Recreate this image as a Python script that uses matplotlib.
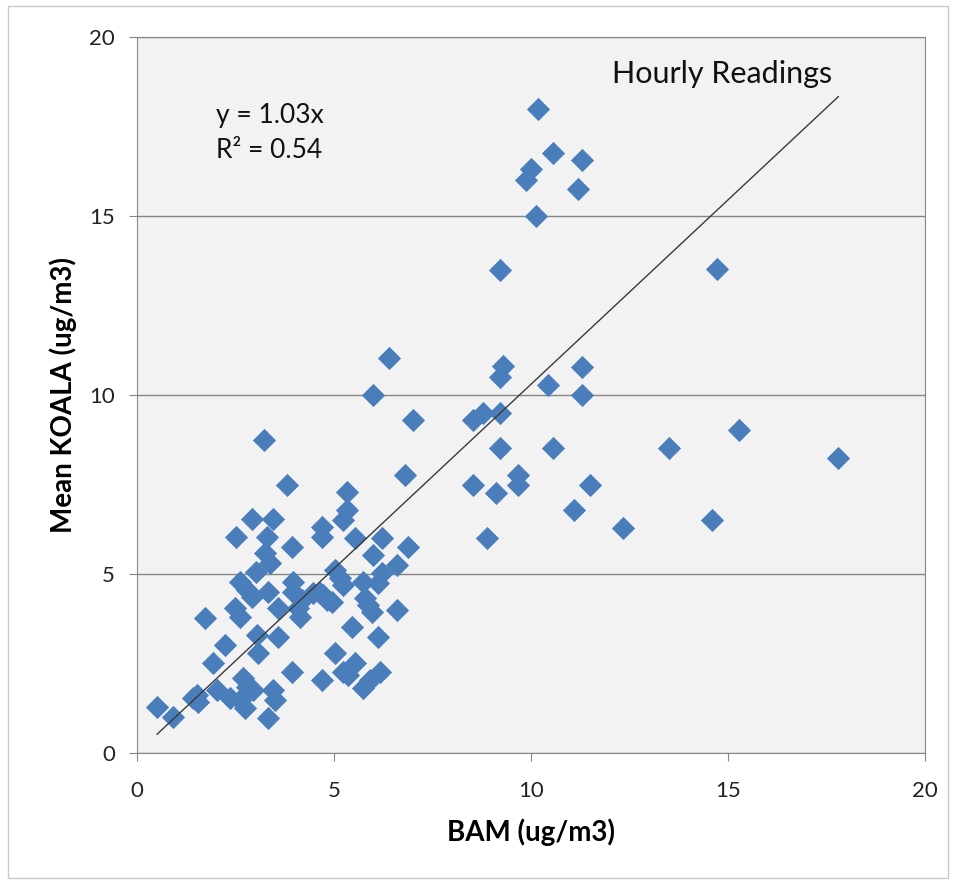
import matplotlib
matplotlib.use("Agg")
import matplotlib.pyplot as plt
from matplotlib.patches import Rectangle
import numpy as np

plt.rcParams['font.family'] = ['Lato', 'DejaVu Sans']

bam = [10.17, 10.55, 11.3, 9.99, 9.88, 11.2, 10.12, 9.22, 14.71, 6.4, 9.3, 9.22, 11.3, 10.42, 11.3,
       6.0, 7.01, 8.54, 8.79, 9.22, 9.22, 10.55, 13.5, 15.27, 17.8, 9.66, 9.66, 8.54, 9.1, 11.51,
       11.08, 12.33, 14.6, 8.89, 6.81,
       5.34, 5.34, 5.24, 5.54, 6.23, 6.89, 6.0, 6.6, 5.03, 5.16, 5.24, 6.23, 6.12, 5.74, 4.47,
       4.73, 4.96, 5.79, 5.87, 5.97, 6.6, 5.46, 6.12, 5.03, 5.54, 5.24, 5.36, 6.18, 5.92, 5.74,
       3.23, 3.81, 2.92, 3.46, 2.52, 3.3, 3.94, 4.7, 4.7, 3.25, 3.38, 3.02, 2.62, 2.8, 2.92,
       3.33, 3.96, 3.96, 4.19, 4.65, 4.83, 3.58, 4.09, 2.49, 2.62, 1.73, 4.14, 3.05, 3.58, 2.24,
       3.07, 1.93, 3.94, 4.7, 2.03, 2.69, 2.8, 2.95, 1.52, 1.55, 2.36, 2.62, 2.74, 3.46, 3.51,
       3.33, 0.51, 0.91, 1.42]
koala = [18.0, 16.76, 16.56, 16.3, 16.0, 15.75, 15.0, 13.5, 13.52, 11.03, 10.8, 10.5, 10.78, 10.28, 10.0,
         10.0, 9.3, 9.3, 9.5, 9.5, 8.52, 8.52, 8.52, 9.02, 8.24, 7.77, 7.49, 7.49, 7.26, 7.49,
         6.79, 6.28, 6.51, 6.0, 7.77,
         7.29, 6.79, 6.51, 6.0, 6.0, 5.75, 5.53, 5.25, 5.11, 4.89, 4.69, 5.03, 4.75, 4.78, 4.47,
         4.41, 4.22, 4.33, 4.13, 3.94, 3.99, 3.52, 3.24, 2.79, 2.51, 2.26, 2.18, 2.26, 2.04, 1.82,
         8.74, 7.49, 6.54, 6.54, 6.03, 6.03, 5.75, 6.31, 6.03, 5.58, 5.3, 5.05, 4.78, 4.55, 4.36,
         4.5, 4.78, 4.5, 4.27, 4.47, 4.27, 4.05, 4.05, 4.05, 3.8, 3.77, 3.8, 3.3, 3.24, 3.02,
         2.79, 2.51, 2.26, 2.04, 1.76, 2.09, 1.84, 1.76, 1.62, 1.42, 1.54, 1.48, 1.26, 1.76, 1.48,
         0.98, 1.29, 1.01, 1.54]

slope = 1.03
r2 = 0.54
ticks = [0, 5, 10, 15, 20]

fig = plt.figure(figsize=(9.56, 8.82), dpi=100)
fig.patches.append(Rectangle((8/956, 4/882), 940/956, 872/882, transform=fig.transFigure,
                             fill=False, edgecolor='#c8c8c8', linewidth=1.0))
ax = fig.add_axes([137/956, 1 - 753/882, 788/956, 716/882])
ax.set_facecolor('#f2f2f2')

ax.scatter(bam, koala, marker='D', s=140, color='#4a7ebb', linewidths=0, zorder=3)
xs = np.array([min(bam), max(bam)])
ax.plot(xs, slope * xs, color='#3a3a3a', linewidth=1.0, zorder=4)

ax.set_xlim(0, 20)
ax.set_ylim(0, 20)
ax.set_xticks(ticks)
ax.set_yticks(ticks)
ax.grid(axis='y', color='#868686', linewidth=1.0)
ax.set_axisbelow(True)
for s in ax.spines.values():
    s.set_color('#868686')
ax.tick_params(direction='out', length=6, color='#868686', labelsize=16, labelcolor='#222222')
ax.tick_params(axis='y', pad=10)
ax.tick_params(axis='x', pad=14)

ax.set_xlabel('BAM (ug/m3)', fontsize=20, fontweight='bold', labelpad=13)
ax.set_ylabel('Mean KOALA (ug/m3)', fontsize=20, fontweight='bold', labelpad=9)

ax.text(14.85, 18.98, 'Hourly Readings', fontsize=22, ha='center', va='center', color='#111111')
ax.text(2.0, 17.8, 'y = 1.03x', fontsize=19, ha='left', va='center', color='#111111')
ax.text(2.0, 16.82, 'R² = 0.54', fontsize=19, ha='left', va='center', color='#111111')

fig.savefig('out.png', dpi=100)
